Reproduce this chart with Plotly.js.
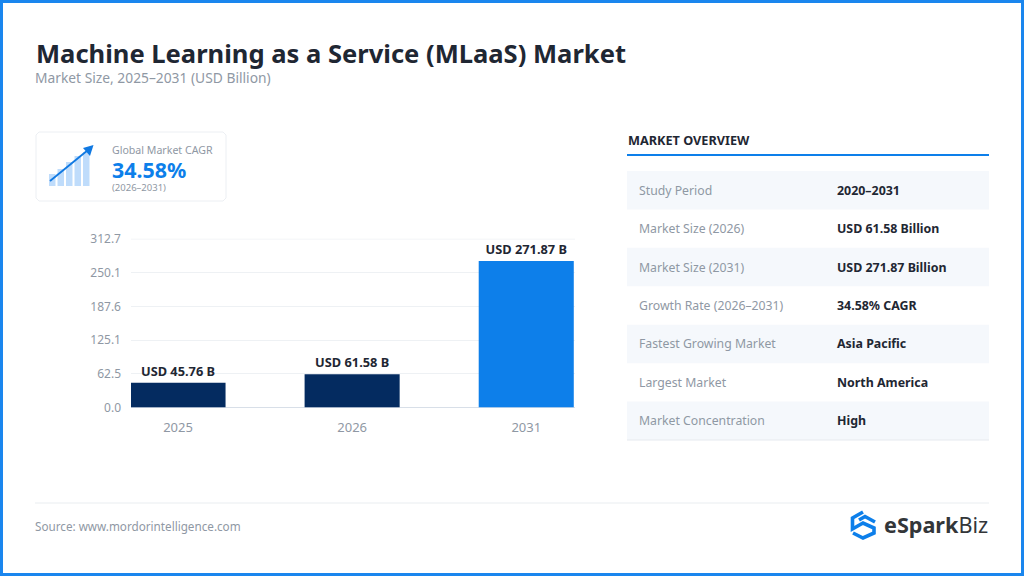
<!DOCTYPE html>
<html><head><meta charset="utf-8">
<script src="https://cdn.plot.ly/plotly-3.0.1.min.js"></script>
<style>html,body{margin:0;padding:0;background:#fff;overflow:hidden}#c{width:1024px;height:576px}</style>
</head><body><div id="c"></div>
<script>
const categories = ["2025","2026","2031"];
const barValues = [45.76,61.58,271.87];
const barLabels = ["USD 45.76 B","USD 61.58 B","USD 271.87 B"];
const barColors = ["#042b60","#042b60","#0d7fea"];
const yTicks = [0,62.5,125.1,187.6,250.1,312.7];
const yTickLabels = ["0.0","62.5","125.1","187.6","250.1","312.7"];
const rowLabels = ["Study Period","Market Size (2026)","Market Size (2031)","Growth Rate (2026–2031)","Fastest Growing Market","Largest Market","Market Concentration"];
const rowValues = ["2020–2031","USD 61.58 Billion","USD 271.87 Billion","34.58% CAGR","Asia Pacific","North America","High"];
const iconBars = [12,17,24,30,34];

const W=1024,H=576,F='"Noto Sans", sans-serif';
const px=x=>x/W, py=y=>1-y/H;
const shapes=[],ann=[];
const rect=(x0,y0,x1,y1,fill,line,lw)=>shapes.push({type:'rect',xref:'paper',yref:'paper',x0:px(x0),x1:px(x1),y0:py(y1),y1:py(y0),fillcolor:fill,line:{color:line||fill,width:lw||0},layer:'below'});
const hline=(x0,x1,y,c,w)=>shapes.push({type:'line',xref:'paper',yref:'paper',x0:px(x0),x1:px(x1),y0:py(y),y1:py(y),line:{color:c,width:w},layer:'below'});
const txt=(x,y,t,size,color,weight,anchor)=>ann.push({xref:'paper',yref:'paper',x:px(x),y:py(y),text:t,showarrow:false,xanchor:anchor||'left',yanchor:'middle',font:{family:F,size,color,weight:weight||400},borderpad:0,borderwidth:0});
const pathPx=(pts,close)=>pts.map((p,i)=>(i?'L':'M')+px(p[0])+','+py(p[1])).join(' ')+(close?' Z':'');

// frame
rect(1.5,1.5,1022.5,574.5,'rgba(0,0,0,0)','#1a86ee',3);
// heading
txt(35.5,53,'Machine Learning as a Service (MLaaS) Market',25.55,'#1f2733',700);
txt(35,78,'Market Size, 2025–2031 (USD Billion)',13.8,'#8f98a4');
// CAGR card
shapes.push({type:'path',xref:'paper',yref:'paper',layer:'below',fillcolor:'#ffffff',line:{color:'#eceff3',width:1},
  path:pathPx([[39,132],[223,132],[226,135],[226,198],[223,201],[39,201],[36,198],[36,135]],true)});
iconBars.forEach((h,i)=>rect(49+i*8.5,186-h,55.5+i*8.5,186,'#bfdcfb'));
shapes.push({type:'line',xref:'paper',yref:'paper',x0:px(50),y0:py(181),x1:px(88),y1:py(150),line:{color:'#1079e2',width:1.8}});
shapes.push({type:'path',xref:'paper',yref:'paper',fillcolor:'#1079e2',line:{width:0},path:pathPx([[93.5,145],[90,156],[83,148]],true)});
txt(112,149.5,'Global Market CAGR',10.6,'#8f98a4');
txt(112,169,'34.58%',21.4,'#0d7fea',700);
txt(112,188,'(2026–2031)',9.5,'#8f98a4');
// table
txt(627.5,140,'MARKET OVERVIEW',12.7,'#1f2733',700);
hline(627,989,155,'#0d7fea',2);
const rowH=38.43,rowTop=171;
rowLabels.forEach((l,i)=>{
  const y0=rowTop+i*rowH;
  if(i%2===0) rect(627,y0,989,y0+rowH,'#f5f8fc');
  txt(639,y0+19.2,l,12.25,'#8f98a4');
  txt(837,y0+19.2,rowValues[i],12.4,'#1f2733',700);
});
hline(627,989,440,'#e6eaef',1);
// footer
hline(35,989,503,'#e9edf0',1);
txt(35,526,'Source: www.mordorintelligence.com',11.7,'#8f98a4');
// logo
const logoLine=(pts)=>shapes.push({type:'path',xref:'paper',yref:'paper',fillcolor:'rgba(0,0,0,0)',line:{color:'#0d7fea',width:3.6},path:pathPx(pts,false)});
logoLine([[863,512],[852.5,518],[852.5,529],[863,523],[874,528],[874,533],[863,538],[853,533]]);
logoLine([[859,520],[865,516.5],[875,522]]);
txt(884,524,'<b>eSpark</b>Biz',21.6,'#333639',400);
// topmost gridline, drawn at the last tick value
shapes.push({type:'line',xref:'x domain',yref:'y',x0:0,x1:1,y0:yTicks[5],y1:yTicks[5],line:{color:'#eef1f4',width:1},layer:'below'});

const data=[{type:'bar',x:categories,y:barValues,marker:{color:barColors,line:{width:0}},
  text:barLabels,textposition:'outside',cliponaxis:false,
  textfont:{family:F,size:12.8,color:'#1f2733',weight:700},hoverinfo:'skip',width:0.546}];
const layout={width:W,height:H,margin:{l:0,r:0,t:0,b:0},paper_bgcolor:'#fff',plot_bgcolor:'#fff',showlegend:false,
  shapes,annotations:ann,
  xaxis:{domain:[px(131),px(575)],range:[-0.27,2.28],type:'category',tickmode:'array',tickvals:categories,ticktext:categories,
    showgrid:false,zeroline:false,showline:false,ticks:'',ticklen:0,tickfont:{family:F,size:13,color:'#8f98a4'},automargin:false,anchor:'y',ticklabelstandoff:10},
  yaxis:{domain:[py(407.5),py(238.5)],range:[0,313.6],tickmode:'array',tickvals:yTicks,ticktext:yTickLabels,
    gridcolor:'#eef1f4',gridwidth:1,zeroline:true,zerolinecolor:'#d8dfe8',zerolinewidth:1.5,showline:false,ticks:'',
    tickfont:{family:F,size:12,color:'#8f98a4'},automargin:false,ticklabelstandoff:9,ticklabelshift:1.5,anchor:'x'}};
Plotly.newPlot('c',data,layout,{displayModeBar:false,staticPlot:true});
</script></body></html>
